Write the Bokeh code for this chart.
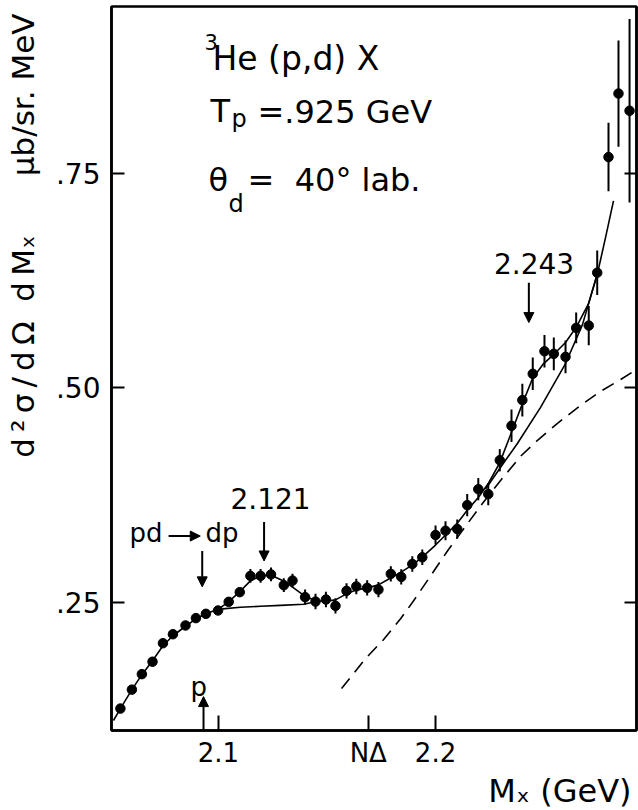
import math
from bokeh.plotting import figure
from bokeh.models import (Range1d, LinearAxis, FixedTicker, Label, Arrow, NormalHead,
                          ColumnDataSource, Title)
from bokeh.embed import file_html
from bokeh.resources import INLINE

# 3He(p,d)X missing-mass spectrum, Tp = 0.925 GeV, theta_d = 40 deg (lab)
mx = [2.0548, 2.0601, 2.0647, 2.0696, 2.0744, 2.0790, 2.0848, 2.0896, 2.0942, 2.0998,
      2.1047, 2.1098, 2.1147, 2.1194, 2.1242, 2.1301, 2.1341, 2.1399, 2.1447, 2.1495,
      2.1539, 2.1590, 2.1635, 2.1685, 2.1737, 2.1794, 2.1842, 2.1893, 2.1939, 2.2000,
      2.2046, 2.2100, 2.2146, 2.2197, 2.2243, 2.2296, 2.2350, 2.2400, 2.2448, 2.2502,
      2.2545, 2.2599, 2.2648, 2.2706, 2.2745, 2.2797, 2.2843, 2.2894]
xsec = [0.1257, 0.1478, 0.1659, 0.1804, 0.2020, 0.2125, 0.2227, 0.2313, 0.2363, 0.2402,
        0.2503, 0.2616, 0.2806, 0.2806, 0.2823, 0.2697, 0.2751, 0.2558, 0.2506, 0.2530,
        0.2456, 0.2631, 0.2683, 0.2666, 0.2646, 0.2829, 0.2794, 0.2945, 0.3023, 0.3283,
        0.3333, 0.3353, 0.3632, 0.3818, 0.3760, 0.4156, 0.4558, 0.4858, 0.5165, 0.5428,
        0.5398, 0.5363, 0.5701, 0.5728, 0.6345, 0.7695, 0.8437, 0.8236]
xsec_err = [0.005, 0.005, 0.005, 0.005, 0.005, 0.005, 0.005, 0.005, 0.005, 0.005,
            0.005, 0.005, 0.008, 0.008, 0.008, 0.008, 0.008, 0.009, 0.009, 0.009,
            0.009, 0.009, 0.009, 0.009, 0.009, 0.009, 0.009, 0.009, 0.009, 0.011,
            0.011, 0.011, 0.013, 0.013, 0.013, 0.013, 0.019, 0.019, 0.019, 0.019,
            0.019, 0.019, 0.018, 0.023, 0.026, 0.040, 0.062, 0.107]

# full fit including both dibaryon candidates
fit_mx = [2.0516, 2.0548, 2.0601, 2.0647, 2.0696, 2.0744, 2.0790, 2.0848, 2.0896, 2.0942,
          2.0998, 2.1046, 2.1097, 2.1147, 2.1194, 2.1240, 2.1300, 2.1346, 2.1396, 2.1447,
          2.1493, 2.1539, 2.1590, 2.1636, 2.1687, 2.1737, 2.1793, 2.1843, 2.1894, 2.1940,
          2.2000, 2.2046, 2.2101, 2.2147, 2.2198, 2.2244, 2.2295, 2.2350, 2.2401, 2.2447,
          2.2498, 2.2544, 2.2599, 2.2650, 2.2705, 2.2747, 2.2783, 2.2820]
fit_xsec = [0.1118, 0.1257, 0.1478, 0.1653, 0.1816, 0.1991, 0.2107, 0.2218, 0.2305, 0.2363,
            0.2416, 0.2503, 0.2619, 0.2747, 0.2806, 0.2817, 0.2747, 0.2666, 0.2573, 0.2515,
            0.2509, 0.2526, 0.2596, 0.2643, 0.2666, 0.2701, 0.2782, 0.2852, 0.2934, 0.3027,
            0.3166, 0.3283, 0.3423, 0.3574, 0.3725, 0.3888, 0.4121, 0.4482, 0.4820, 0.5111,
            0.5285, 0.5390, 0.5530, 0.5716, 0.5984, 0.6345, 0.6752, 0.7183]

# fit without the 2.121 GeV structure
no121_mx = [2.1018, 2.1101, 2.1194, 2.1286, 2.1392, 2.1447]
no121_xsec = [0.2421, 0.2439, 0.2451, 0.2462, 0.2474, 0.2503]

# fit without the 2.243 GeV structure
no243_mx = [2.2230, 2.2300, 2.2378, 2.2484, 2.2599, 2.2677, 2.2747]
no243_xsec = [0.3818, 0.4075, 0.4354, 0.4773, 0.5285, 0.5739, 0.6345]

# quasi-free N-Delta production
nd_mx = [2.1567, 2.1618, 2.1677, 2.1760, 2.1839, 2.1899, 2.1968, 2.2055, 2.2129, 2.2207,
         2.2286, 2.2392, 2.2470, 2.2562, 2.2668, 2.2760, 2.2853, 2.2926]
nd_xsec = [0.1490, 0.1653, 0.1839, 0.2061, 0.2305, 0.2515, 0.2771, 0.3097, 0.3353, 0.3621,
           0.3877, 0.4203, 0.4389, 0.4587, 0.4796, 0.4959, 0.5099, 0.5215]

x_ticks = [2.1, 2.169, 2.2]
x_tick_labels = ["2.1", "N\u0394", "2.2"]
y_ticks = [0.25, 0.5, 0.75]
y_tick_labels = [".25", ".50", ".75"]

# marked masses (GeV)
peak_masses = [2.121, 2.243]
pd_dp_mass = 2.0925
p_mass = 2.0931

FONT = "DejaVu Sans"
INK = "black"
NBSP = "\u00a0"
THIN = "\u2009"

p = figure(width=638, height=810,
           x_range=Range1d(2.0507, 2.2926), y_range=Range1d(0.1001, 0.9453),
           x_axis_type=None, y_axis_type=None,
           output_backend="svg", toolbar_location=None,
           min_border_left=111, min_border_right=2, min_border_top=6, min_border_bottom=78)
p.outline_line_color = INK
p.outline_line_width = 2.5
p.background_fill_color = "white"
p.border_fill_color = "white"


def make_axis(ticks, labels, tick_in, font_size, standoff):
    ax = LinearAxis(ticker=FixedTicker(ticks=ticks, minor_ticks=[]),
                    major_label_overrides=dict(zip(ticks, labels)))
    ax.axis_line_color = INK
    ax.axis_line_width = 2.5
    ax.major_tick_line_color = INK
    ax.major_tick_line_width = 2
    ax.major_tick_in = tick_in
    ax.major_tick_out = 0
    ax.minor_tick_line_color = None
    ax.major_label_text_font = FONT
    ax.major_label_text_font_size = font_size
    ax.major_label_text_color = INK
    ax.major_label_standoff = standoff
    return ax


left_axis = make_axis(y_ticks, y_tick_labels, 13, "28px", 11)
# blank spacer label: leaves a small gap between the values and the rotated title
left_axis.axis_label = NBSP
left_axis.axis_label_text_font_size = "2px"
left_axis.axis_label_standoff = 6
p.add_layout(left_axis, "left")
p.add_layout(make_axis(x_ticks, x_tick_labels, 15, "26px", 7), "below")
p.add_layout(make_axis(y_ticks, ["", "", ""], 12, "1px", 0), "right")

# axis titles
y_title = (THIN.join("d\u00b2\u03c3/d\u03a9") + NBSP * 2 + "d" + THIN + "M\u2093"
           + NBSP * 6 + "\u03bcb/sr. MeV")
p.add_layout(Title(text=y_title, align="right", offset=7, standoff=0,
                   vertical_align="middle", text_font=FONT, text_font_size="31px",
                   text_font_style="normal", text_color=INK), "left")
p.add_layout(Title(text="M\u2093 (GeV)", align="right", offset=5, standoff=0,
                   vertical_align="middle", text_font=FONT, text_font_size="32px",
                   text_font_style="normal", text_color=INK), "below")

# curves
p.line(nd_mx, nd_xsec, line_color=INK, line_width=1.6, line_dash="13 8")
p.line(no121_mx, no121_xsec, line_color=INK, line_width=1.6)
p.line(no243_mx, no243_xsec, line_color=INK, line_width=1.6)
p.line(fit_mx, fit_xsec, line_color=INK, line_width=1.6)

# data with error bars
src = ColumnDataSource(dict(
    x=mx, y=xsec,
    lo=[v - e for v, e in zip(xsec, xsec_err)],
    hi=[v + e for v, e in zip(xsec, xsec_err)],
))
p.segment(x0="x", y0="lo", x1="x", y1="hi", source=src, line_color=INK, line_width=2)
p.scatter("x", "y", source=src, size=9.5, fill_color=INK, line_color=INK)


def arrow(x0, y0, x1, y1):
    p.add_layout(Arrow(end=NormalHead(size=10, fill_color=INK, line_color=INK, line_width=1),
                       x_start=x0, y_start=y0, x_end=x1, y_end=y1,
                       line_color=INK, line_width=2))


arrow(peak_masses[0], 0.3434, peak_masses[0], 0.2980)
arrow(peak_masses[1], 0.6228, peak_masses[1], 0.5763)
arrow(pd_dp_mass, 0.3097, pd_dp_mass, 0.2678)
arrow(2.0770, 0.3271, 2.0916, 0.3271)
arrow(p_mass, 0.1001, p_mass, 0.1397)


def note(text, x, y, size, align="left"):
    p.add_layout(Label(x=x, y=y, x_units="screen", y_units="screen", text=text,
                       text_font=FONT, text_font_size=f"{size}px", text_color=INK,
                       text_align=align, text_baseline="middle"))


# reaction and kinematics
note("3", 93, 689, 21)
note("He (p,d) X", 101, 672, 33)
note("T", 99, 620, 32)
note("p", 120, 612, 24)
note("=.925 GeV", 146, 619, 32)
note("\u03b8", 97, 551, 32)
note("d", 117, 527, 24)
note("=" + NBSP * 2 + "40\u00b0 lab.", 136, 551, 32)

# markers of interest
note(f"{peak_masses[0]:.3f}", 159, 232, 28, align="center")
note(f"{peak_masses[1]:.3f}", 422.5, 467, 28, align="center")
note("pd", 18, 198, 26)
note("dp", 94, 198, 26)
note("p", 79, 44, 26)

open("out.html", "w").write(file_html(p, INLINE))
